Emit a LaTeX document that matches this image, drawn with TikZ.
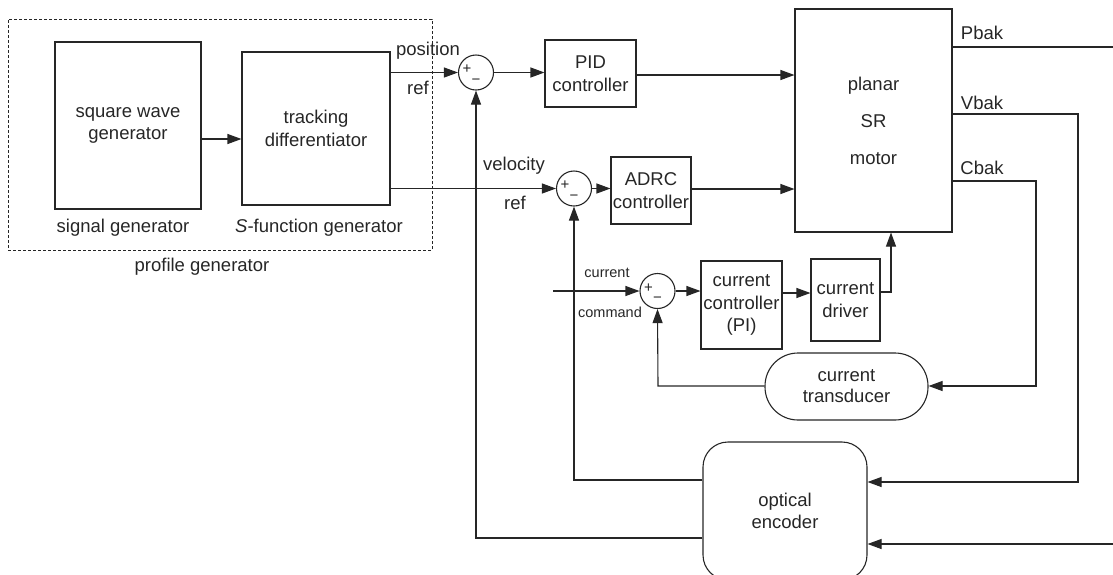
\documentclass[tikz,border=0pt]{standalone}
\usepackage{fontspec}
\setmainfont{Liberation Sans}
\usetikzlibrary{arrows.meta,calc}
\definecolor{ink}{HTML}{262626}
\begin{document}
\begin{tikzpicture}[x=1pt,y=-1pt,line width=1.1pt,draw=ink,text=ink,
  blk/.style={draw,rectangle,inner sep=0pt,align=center,
              font=\fontsize{18.5}{22.5}\selectfont},
  sumnode/.style={draw,circle,minimum size=35pt,inner sep=0pt},
  sgn/.style={inner sep=0pt,font=\fontsize{15}{15}\selectfont},
  lbl/.style={inner sep=0pt,font=\fontsize{18.5}{22}\selectfont},
  sml/.style={inner sep=0pt,font=\fontsize{14.5}{16}\selectfont},
  arr/.style={-{Triangle[length=14pt,width=10pt]}}]
\clip (0,0) rectangle (1113,574);
\useasboundingbox (0,0) rectangle (1113,574);

% profile generator group
\node[draw,line width=0.8pt,dash pattern=on 3pt off 2pt,minimum width=424pt,
      minimum height=231pt,inner sep=0pt] (pg) at (220,134.5) {};
\node[blk,minimum width=146pt,minimum height=167pt] (sqw) at (128,125.5)
  {square wave\\generator};
\node[blk,minimum width=148pt,minimum height=153pt] (td) at (316,128.5)
  {tracking\\differentiator};
\node[lbl] (siglbl) at (123,228) {signal generator};
\node[lbl] (sfun) at (319,228) {\textit{S}-function generator};
\node[lbl] (prof) at (202,267) {profile generator};

% controllers and plant
\node[blk,minimum width=91pt,minimum height=67pt] (pid) at (590.5,73.5)
  {PID\\controller};
\node[blk,minimum width=157pt,minimum height=223pt,
      font=\fontsize{18.5}{37}\selectfont] (motor) at (873.5,120.5)
  {planar\\SR\\motor};
\node[blk,minimum width=80pt,minimum height=67pt] (adrc) at (651,190.5)
  {ADRC\\controller};
\node[blk,minimum width=81pt,minimum height=88pt] (cc) at (741.5,305)
  {current\\controller\\(PI)};
\node[blk,minimum width=69pt,minimum height=82pt] (drv) at (845.5,300)
  {current\\driver};
\node[blk,minimum width=163pt,minimum height=67pt,rounded corners=33pt,
      font=\fontsize{18.5}{21}\selectfont] (trans) at (846.5,386.5)
  {current\\transducer};
\node[blk,minimum width=164pt,minimum height=138pt,rounded corners=25pt] (enc)
  at (785,511) {optical\\encoder};

% summing junctions
\node[sumnode] (s1) at (476,72.5) {};
\node[sumnode] (s2) at (574,188.5) {};
\node[sumnode] (s3) at (657.5,291) {};
\foreach \s in {s1,s2,s3}{
  \node[sgn] (\s p) at ($(\s)+(-9,-3)$) {+};
  \node[sgn] (\s m) at ($(\s)+(0,9)$) {−};
}

% signal labels
\node[lbl] (pos) at (428,51) {position};
\node[lbl] (pref) at (418,88) {ref};
\node[lbl] (vel) at (514,166) {velocity};
\node[lbl] (vref) at (515,203) {ref};
\node[sml] (cur) at (607,273) {current};
\node[sml] (cmd) at (610,312) {command};
\node[lbl] (pb) at (982,33) {Pbak};
\node[lbl] (vb) at (982,103) {Vbak};
\node[lbl] (cb) at (982,168) {Cbak};

% corner points of the wiring
\coordinate (cin) at (553,291);
\coordinate (drvout) at (891,292);
\coordinate (pout) at (1113,47);
\coordinate (vturn) at (1078,114);
\coordinate (cturn) at (1036,181);
\coordinate (tfb) at (658,386);
\coordinate (vfb) at (574,480);
\coordinate (pfb) at (476,538);
\coordinate (ein) at (1113,544);

% forward paths
\draw[arr] (sqw.east |- 0,139) -- (td.west |- 0,139);
\draw[arr] (td.east |- s1) -- (s1.west);
\draw[arr] (s1.east) -- (pid.west |- s1);
\draw[arr] (pid.east |- 0,75) -- (motor.west |- 0,75);
\draw[arr] (td.east |- s2) -- (s2.west);
\draw[arr] (s2.east) -- (adrc.west |- s2);
\draw[arr] (adrc.east |- 0,189) -- (motor.west |- 0,189);
\draw[arr] (cin) -- (s3.west);
\draw[arr] (s3.east) -- (cc.west |- s3);
\draw[arr] (cc.east |- 0,293) -- (drv.west |- 0,293);
\draw[arr] (drv.east |- drvout) -- (drvout) -- (drvout |- motor.south);

% motor outputs and feedback
\draw (motor.east |- pout) -- (pout);
\draw[arr] (motor.east |- vturn) -- (vturn) -- (vturn |- 0,482) -- (enc.east |- 0,482);
\draw[arr] (motor.east |- cturn) -- (cturn) -- (cturn |- tfb) -- (trans.east |- tfb);
\draw[arr] (ein) -- (enc.east |- ein);
\draw[arr] (trans.west |- tfb) -- (tfb) -- (s3.south);
\draw[arr] (enc.west |- vfb) -- (vfb) -- (s2.south);
\draw[arr] (enc.west |- pfb) -- (pfb) -- (s1.south);
\end{tikzpicture}
\end{document}
